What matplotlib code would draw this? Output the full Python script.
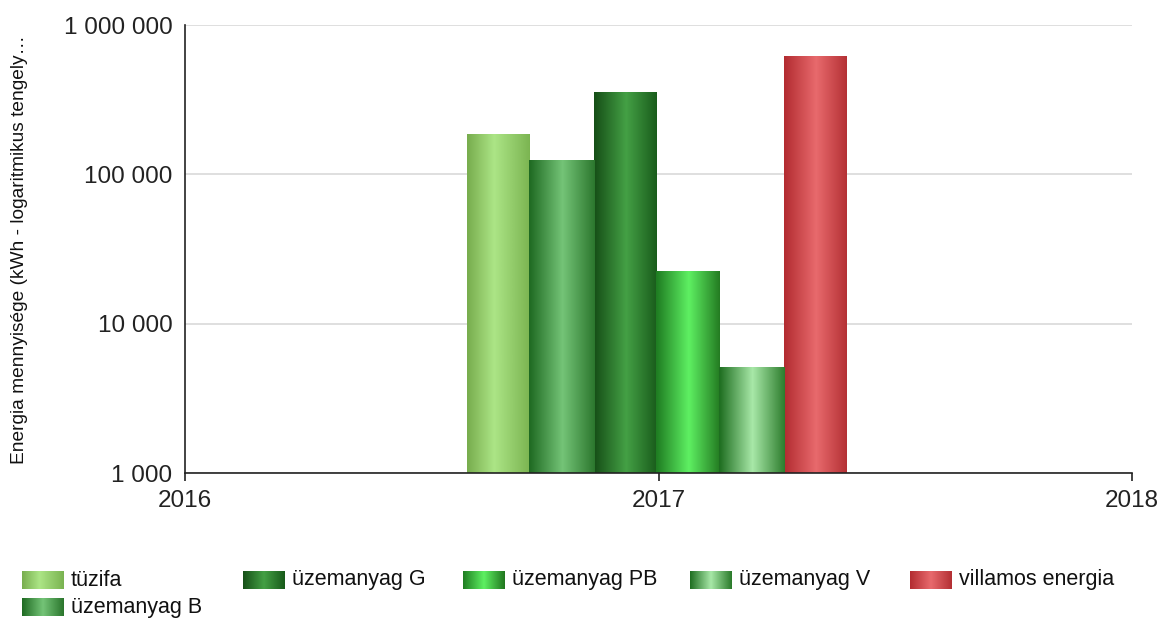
import matplotlib
matplotlib.use("Agg")
import matplotlib.pyplot as plt
import numpy as np
from matplotlib.colors import LinearSegmentedColormap
from matplotlib.ticker import FixedLocator, FuncFormatter, NullLocator

plt.rcParams['font.family'] = ['Liberation Sans', 'DejaVu Sans']

year = 2017
series = ["tüzifa", "üzemanyag B", "üzemanyag G", "üzemanyag PB", "üzemanyag V", "villamos energia"]
values = [188000, 126000, 359000, 22800, 5200, 625000]
legend_order = ["tüzifa", "üzemanyag G", "üzemanyag PB", "üzemanyag V", "villamos energia", "üzemanyag B"]
x_ticks = [2016, 2017, 2018]
y_ticks = [1000, 10000, 100000, 1000000]
y_label = "Energia mennyisége (kWh - logaritmikus tengely…"

# gradient stops: (edge, highlight, edge)
grads = {
    "tüzifa": ["#78ad4e", "#ace586", "#7ab350"],
    "üzemanyag B": ["#1f6a22", "#74c477", "#2a752c"],
    "üzemanyag G": ["#164f17", "#44a045", "#185a1a"],
    "üzemanyag PB": ["#1f7d22", "#5ef062", "#21761f"],
    "üzemanyag V": ["#1e6e20", "#a8e8a8", "#2a7a2a"],
    "villamos energia": ["#b32c31", "#e86a6d", "#b32f33"],
}
hl_pos = {"tüzifa": 0.42}

def cmap_for(name):
    c = grads[name]
    p = hl_pos.get(name, 0.5)
    return LinearSegmentedColormap.from_list(name, [(0, c[0]), (p, c[1]), (1, c[2])])

W, H = 1163, 621
fig = plt.figure(figsize=(W / 100, H / 100), dpi=100)
ax = fig.add_axes([185 / W, 1 - 473 / H, (1132 - 185) / W, (473 - 25) / H])
ax.set_yscale("log")
ax.set_xlim(2016, 2018)
ax.set_ylim(1000, 1000000)

base = 1000
bw = 0.134
start = year - 0.405
overlap = 0.003
grad = np.linspace(0, 1, 256).reshape(1, -1)
n = len(series)
order = np.argsort(np.argsort(-np.array(values)))  # taller bars lower in the stack
for i, (name, v) in enumerate(zip(series, values)):
    x0 = start + i * bw
    ax.bar(x0, v - base, width=bw, align="edge", bottom=base, facecolor="none", linewidth=0, zorder=2)
    left = x0 - (overlap if i > 0 and values[i - 1] >= v else 0)
    right = x0 + bw + (overlap if i < n - 1 and values[i + 1] >= v else 0)
    ax.imshow(grad, cmap=cmap_for(name), extent=(left, right, base, v), aspect="auto",
              interpolation="bilinear", zorder=3 + 0.01 * order[i])
ax.set_xlim(2016, 2018)
ax.set_ylim(1000, 1000000)
ax.set_aspect("auto")

ax.yaxis.set_major_locator(FixedLocator(y_ticks))
ax.yaxis.set_minor_locator(NullLocator())
ax.yaxis.set_major_formatter(FuncFormatter(lambda v, p: f"{int(round(v)):,}".replace(",", " ")))
ax.set_xticks(x_ticks)
ax.set_xticklabels([str(t) for t in x_ticks])
ax.grid(axis="y", color="#d9d9d9", linewidth=1.2, zorder=0)
ax.set_axisbelow(True)
for s in ["top", "right"]:
    ax.spines[s].set_visible(False)
for s in ["left", "bottom"]:
    ax.spines[s].set_color("#222222")
    ax.spines[s].set_linewidth(1.2)
    ax.spines[s].set_zorder(5)
ax.tick_params(axis="both", labelsize=17.5, colors="#222222", width=1.2)
ax.tick_params(axis="y", length=0, pad=9)
ax.tick_params(axis="x", length=6, pad=6)

fig.text(20 / W, 1 - 250 / H, y_label, rotation=90, ha="center", va="center", fontsize=13.8, color="#111111")

# legend
pos = [(22, 580), (243, 580), (463, 580), (690, 580), (910, 580), (22, 607)]
for name, (px, py) in zip(legend_order, pos):
    lax = fig.add_axes([px / W, 1 - (py + 9) / H, 42 / W, 18 / H])
    lax.imshow(grad, cmap=cmap_for(name), aspect="auto", interpolation="bilinear")
    lax.set_axis_off()
    fig.text((px + 49) / W, 1 - py / H, name, ha="left", va="center", fontsize=15.5, color="#111111")

fig.savefig("out.png", dpi=100)
